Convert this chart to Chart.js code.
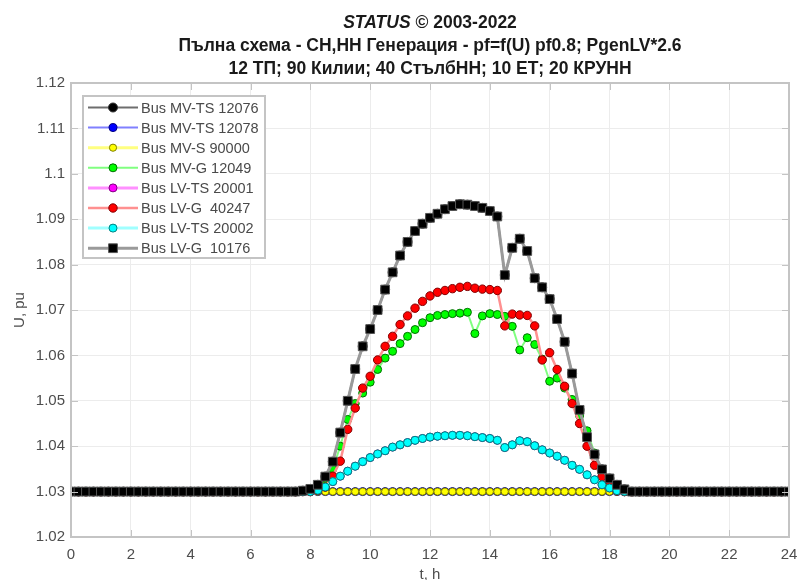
<!DOCTYPE html>
<html>
<head>
<meta charset="utf-8">
<script src="https://cdn.jsdelivr.net/npm/chart.js@4.4.1/dist/chart.umd.min.js"></script>
<style>
  html, body { margin: 0; padding: 0; background: #fff; }
  canvas { display: block; }
</style>
</head>
<body>
<canvas id="myChart" width="797" height="580"></canvas>
<script>
// time axis, 15 min steps
const hours = [
  0, 0.25, 0.5, 0.75, 1, 1.25, 1.5, 1.75, 2, 2.25, 2.5, 2.75, 3, 3.25, 3.5, 3.75,
  4, 4.25, 4.5, 4.75, 5, 5.25, 5.5, 5.75, 6, 6.25, 6.5, 6.75, 7, 7.25, 7.5, 7.75,
  8, 8.25, 8.5, 8.75, 9, 9.25, 9.5, 9.75, 10, 10.25, 10.5, 10.75, 11, 11.25, 11.5, 11.75,
  12, 12.25, 12.5, 12.75, 13, 13.25, 13.5, 13.75, 14, 14.25, 14.5, 14.75, 15, 15.25, 15.5, 15.75,
  16, 16.25, 16.5, 16.75, 17, 17.25, 17.5, 17.75, 18, 18.25, 18.5, 18.75, 19, 19.25, 19.5, 19.75,
  20, 20.25, 20.5, 20.75, 21, 21.25, 21.5, 21.75, 22, 22.25, 22.5, 22.75, 23, 23.25, 23.5, 23.75,
  24
];

// Bus LV-G 10176 (same as Bus MV-TS 12076)
const lvG10176 = [
  1.03, 1.03, 1.03, 1.03, 1.03, 1.03, 1.03, 1.03,
  1.03, 1.03, 1.03, 1.03, 1.03, 1.03, 1.03, 1.03,
  1.03, 1.03, 1.03, 1.03, 1.03, 1.03, 1.03, 1.03,
  1.03, 1.03, 1.03, 1.03, 1.03, 1.03, 1.03, 1.0302,
  1.0306, 1.0315, 1.0333, 1.0366, 1.043, 1.050, 1.057, 1.062,
  1.0658, 1.070, 1.0745, 1.0783, 1.082, 1.085, 1.0874, 1.089,
  1.0903, 1.0912, 1.0922, 1.0929, 1.0933, 1.0932, 1.0929, 1.0925,
  1.0918, 1.0906, 1.0777, 1.0837, 1.0857, 1.083, 1.077, 1.075,
  1.0724, 1.068, 1.063, 1.056, 1.048, 1.042, 1.0382, 1.0349,
  1.0329, 1.0315, 1.0305, 1.03, 1.03, 1.03, 1.03, 1.03,
  1.03, 1.03, 1.03, 1.03, 1.03, 1.03, 1.03, 1.03,
  1.03, 1.03, 1.03, 1.03, 1.03, 1.03, 1.03, 1.03,
  1.03
];
const mvTS12076 = lvG10176;

// Bus MV-TS 12078 and Bus MV-S 90000 stay at 1.03
const mvTS12078 = [
  1.03, 1.03, 1.03, 1.03, 1.03, 1.03, 1.03, 1.03, 1.03, 1.03, 1.03, 1.03, 1.03, 1.03, 1.03, 1.03,
  1.03, 1.03, 1.03, 1.03, 1.03, 1.03, 1.03, 1.03, 1.03, 1.03, 1.03, 1.03, 1.03, 1.03, 1.03, 1.03,
  1.03, 1.03, 1.03, 1.03, 1.03, 1.03, 1.03, 1.03, 1.03, 1.03, 1.03, 1.03, 1.03, 1.03, 1.03, 1.03,
  1.03, 1.03, 1.03, 1.03, 1.03, 1.03, 1.03, 1.03, 1.03, 1.03, 1.03, 1.03, 1.03, 1.03, 1.03, 1.03,
  1.03, 1.03, 1.03, 1.03, 1.03, 1.03, 1.03, 1.03, 1.03, 1.03, 1.03, 1.03, 1.03, 1.03, 1.03, 1.03,
  1.03, 1.03, 1.03, 1.03, 1.03, 1.03, 1.03, 1.03, 1.03, 1.03, 1.03, 1.03, 1.03, 1.03, 1.03, 1.03,
  1.03
];
const mvS90000 = mvTS12078;

// Bus MV-G 12049
const mvG12049 = [
  1.03, 1.03, 1.03, 1.03, 1.03, 1.03, 1.03, 1.03,
  1.03, 1.03, 1.03, 1.03, 1.03, 1.03, 1.03, 1.03,
  1.03, 1.03, 1.03, 1.03, 1.03, 1.03, 1.03, 1.03,
  1.03, 1.03, 1.03, 1.03, 1.03, 1.03, 1.03, 1.03,
  1.03, 1.0303, 1.0315, 1.035, 1.040, 1.0459, 1.0494, 1.0517,
  1.0541, 1.0569, 1.0594, 1.0609, 1.0626, 1.0642, 1.0657, 1.0672,
  1.0683, 1.0688, 1.069, 1.0692, 1.0693, 1.0695, 1.0648, 1.0687,
  1.0692, 1.069, 1.0686, 1.0664, 1.0612, 1.0639, 1.0624, 1.0592,
  1.0543, 1.055, 1.0528, 1.0503, 1.0467, 1.0434, 1.0385, 1.0345,
  1.0318, 1.0303, 1.03, 1.03, 1.03, 1.03, 1.03, 1.03,
  1.03, 1.03, 1.03, 1.03, 1.03, 1.03, 1.03, 1.03,
  1.03, 1.03, 1.03, 1.03, 1.03, 1.03, 1.03, 1.03,
  1.03
];

// Bus LV-G 40247
const lvG40247 = [
  1.03, 1.03, 1.03, 1.03, 1.03, 1.03, 1.03, 1.03,
  1.03, 1.03, 1.03, 1.03, 1.03, 1.03, 1.03, 1.03,
  1.03, 1.03, 1.03, 1.03, 1.03, 1.03, 1.03, 1.03,
  1.03, 1.03, 1.03, 1.03, 1.03, 1.03, 1.03, 1.03,
  1.03, 1.0303, 1.031, 1.0334, 1.0367, 1.0437, 1.0484, 1.0528,
  1.0554, 1.059, 1.062, 1.0642, 1.0668, 1.0687, 1.0704, 1.0719,
  1.0731, 1.0739, 1.0743, 1.0747, 1.075, 1.0752, 1.0748, 1.0746,
  1.0745, 1.0743, 1.0665, 1.0691, 1.0689, 1.0688, 1.0665, 1.059,
  1.0606, 1.0569, 1.0532, 1.0494, 1.045, 1.040, 1.0358, 1.0333,
  1.0312, 1.0302, 1.03, 1.03, 1.03, 1.03, 1.03, 1.03,
  1.03, 1.03, 1.03, 1.03, 1.03, 1.03, 1.03, 1.03,
  1.03, 1.03, 1.03, 1.03, 1.03, 1.03, 1.03, 1.03,
  1.03
];

// Bus LV-TS 20002 (LV-TS 20001 lies under it)
const lvTS20002 = [
  1.03, 1.03, 1.03, 1.03, 1.03, 1.03, 1.03, 1.03,
  1.03, 1.03, 1.03, 1.03, 1.03, 1.03, 1.03, 1.03,
  1.03, 1.03, 1.03, 1.03, 1.03, 1.03, 1.03, 1.03,
  1.03, 1.03, 1.03, 1.03, 1.03, 1.03, 1.03, 1.03,
  1.03, 1.0303, 1.031, 1.0322, 1.0334, 1.0345, 1.0356, 1.0366,
  1.0375, 1.0383, 1.039, 1.0398, 1.0403, 1.0408, 1.0413, 1.0417,
  1.042, 1.0422, 1.0423, 1.0424, 1.0424, 1.0423, 1.0421, 1.0419,
  1.0417, 1.0413, 1.0397, 1.0403, 1.0412, 1.041, 1.0401, 1.0392,
  1.0385, 1.0378, 1.0369, 1.0358, 1.0349, 1.0337, 1.0326, 1.0315,
  1.0308, 1.0302, 1.03, 1.03, 1.03, 1.03, 1.03, 1.03,
  1.03, 1.03, 1.03, 1.03, 1.03, 1.03, 1.03, 1.03,
  1.03, 1.03, 1.03, 1.03, 1.03, 1.03, 1.03, 1.03,
  1.03
];
const lvTS20001 = lvTS20002;

const seriesLabels = [
  "Bus MV-TS 12076", "Bus MV-TS 12078", "Bus MV-S 90000", "Bus MV-G 12049",
  "Bus LV-TS 20001", "Bus LV-G  40247", "Bus LV-TS 20002", "Bus LV-G  10176"
];

const xTicks = [0, 2, 4, 6, 8, 10, 12, 14, 16, 18, 20, 22, 24];
const yTicks = [1.02, 1.03, 1.04, 1.05, 1.06, 1.07, 1.08, 1.09, 1.1, 1.11, 1.12];
const yTickLabels = ["1.02", "1.03", "1.04", "1.05", "1.06", "1.07", "1.08", "1.09", "1.1", "1.11", "1.12"];

const titleMain = ["STATUS", " \u00a9 2003-2022"];
const titleSub = [
  "Пълна схема - СН,НН Генерация - pf=f(U) pf0.8; PgenLV*2.6",
  "12 ТП; 90 Килии; 40 СтълбНН; 10 ЕТ; 20 КРУНН"
];

const FONT = '"Liberation Sans", Arial, sans-serif';

function series(i, data, line, width, fill, edge, style, radius) {
  return {
    label: seriesLabels[i],
    data: hours.map((t, k) => ({ x: t, y: data[k] })),
    borderColor: line,
    borderWidth: width,
    backgroundColor: fill,
    pointBackgroundColor: fill,
    pointBorderColor: edge,
    pointBorderWidth: 1,
    pointStyle: style,
    pointRadius: radius,
    pointHoverRadius: radius,
    tension: 0,
    order: 7 - i
  };
}

const datasets = [
  series(0, mvTS12076, "#6e6e6e", 2, "#000000", "#333333", "circle", 4.5),
  series(1, mvTS12078, "#8080ff", 2, "#0000ff", "#000080", "circle", 4),
  series(2, mvS90000, "#ffff80", 3, "#ffff00", "#808000", "circle", 3.6),
  series(3, mvG12049, "#80ff80", 2, "#00ff00", "#007000", "circle", 4),
  series(4, lvTS20001, "#ff90ff", 3, "#ff00ff", "#800080", "circle", 4),
  series(5, lvG40247, "#ff9090", 2.5, "#ff0000", "#800000", "circle", 4.2),
  series(6, lvTS20002, "#a0ffff", 3, "#00ffff", "#008080", "circle", 4),
  series(7, lvG10176, "#9a9a9a", 3, "#000000", "#555555", "rect", 6.2)
];

// title, box, inner ticks and legend drawn like the matlab figure
const figurePlugin = {
  id: "figure",
  afterDraw(chart) {
    const ctx = chart.ctx;
    const a = chart.chartArea;
    const sx = chart.scales.x, sy = chart.scales.y;
    ctx.save();

    // box
    ctx.strokeStyle = "#c4c4c4";
    ctx.lineWidth = 2;
    ctx.strokeRect(a.left, a.top, a.right - a.left, a.bottom - a.top);

    // inner ticks
    ctx.strokeStyle = "#c4c4c4";
    ctx.lineWidth = 1;
    ctx.beginPath();
    xTicks.forEach(v => {
      const px = Math.round(sx.getPixelForValue(v)) + 0.5;
      ctx.moveTo(px, a.bottom); ctx.lineTo(px, a.bottom - 7);
      ctx.moveTo(px, a.top); ctx.lineTo(px, a.top + 7);
    });
    yTicks.forEach(v => {
      const py = Math.round(sy.getPixelForValue(v)) + 0.5;
      ctx.moveTo(a.left, py); ctx.lineTo(a.left + 7, py);
      ctx.moveTo(a.right, py); ctx.lineTo(a.right - 7, py);
    });
    ctx.stroke();

    // title
    const cx = (a.left + a.right) / 2;
    ctx.fillStyle = "#1a1a1a";
    ctx.textBaseline = "middle";
    ctx.textAlign = "left";
    ctx.font = "italic bold 17.5px " + FONT;
    const w1 = ctx.measureText(titleMain[0]).width;
    ctx.font = "bold 17.5px " + FONT;
    const w2 = ctx.measureText(titleMain[1]).width;
    let x0 = cx - (w1 + w2) / 2;
    ctx.font = "italic bold 17.5px " + FONT;
    ctx.fillText(titleMain[0], x0, 23);
    ctx.font = "bold 17.5px " + FONT;
    ctx.fillText(titleMain[1], x0 + w1, 23);
    ctx.textAlign = "center";
    ctx.fillText(titleSub[0], cx, 46);
    ctx.fillText(titleSub[1], cx, 69);

    // legend
    const lx = 83, ly = 96, lw = 182, lh = 162;
    ctx.fillStyle = "#ffffff";
    ctx.fillRect(lx, ly, lw, lh);
    ctx.strokeStyle = "#c4c4c4";
    ctx.lineWidth = 2;
    ctx.strokeRect(lx, ly, lw, lh);
    ctx.font = "14.5px " + FONT;
    ctx.textAlign = "left";
    datasets.forEach((d, i) => {
      const y = 107.5 + i * 20.1;
      ctx.strokeStyle = d.borderColor;
      ctx.lineWidth = d.borderWidth;
      ctx.beginPath();
      ctx.moveTo(88, y); ctx.lineTo(138, y);
      ctx.stroke();
      ctx.fillStyle = d.pointBackgroundColor;
      ctx.strokeStyle = d.pointBorderColor;
      ctx.lineWidth = d.pointBorderWidth;
      Chart.helpers.drawPoint(ctx, { pointStyle: d.pointStyle, radius: d.pointRadius, rotation: 0, borderWidth: 1 }, 113, y);
      ctx.fillStyle = "#4a4a4a";
      ctx.fillText(d.label, 141, y + 1);
    });
    ctx.restore();
  }
};

const ctx = document.getElementById("myChart");
new Chart(ctx, {
  type: "line",
  data: { datasets: datasets },
  options: {
    responsive: false,
    animation: false,
    devicePixelRatio: 1,
    layout: { padding: { left: 0, right: 8, top: 83, bottom: 0 } },
    plugins: { legend: { display: false }, tooltip: { enabled: false }, title: { display: false } },
    scales: {
      x: {
        type: "linear",
        min: 0,
        max: 24,
        afterBuildTicks: s => { s.ticks = xTicks.map(v => ({ value: v })); },
        afterFit: s => { s.height = 43; s.paddingLeft = 0; s.paddingRight = 0; },
        grid: { color: "#ececec", lineWidth: 1, drawTicks: false },
        border: { display: false },
        ticks: { color: "#4d4d4d", font: { family: FONT, size: 15 }, padding: 9, maxRotation: 0 },
        title: { display: true, text: "t, h", color: "#4d4d4d", font: { family: FONT, size: 15 }, padding: { top: 0, bottom: -4 } }
      },
      y: {
        type: "linear",
        min: 1.02,
        max: 1.12,
        afterBuildTicks: s => { s.ticks = yTicks.map(v => ({ value: v })); },
        afterFit: s => { s.width = 71; s.paddingTop = 0; s.paddingBottom = 0; },
        grid: { color: "#ececec", lineWidth: 1, drawTicks: false },
        border: { display: false },
        ticks: { color: "#4d4d4d", font: { family: FONT, size: 15 }, padding: 6, callback: (v, i) => yTickLabels[i] },
        title: { display: true, text: "U, pu", color: "#4d4d4d", font: { family: FONT, size: 15 }, padding: { top: 11, bottom: 0 } }
      }
    }
  },
  plugins: [figurePlugin]
});
</script>
</body>
</html>
